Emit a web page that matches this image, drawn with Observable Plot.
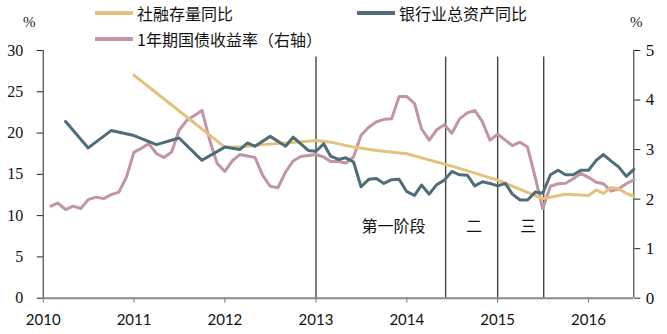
<!DOCTYPE html>
<html><head><meta charset="utf-8">
<script src="https://cdn.jsdelivr.net/npm/d3@7"></script>
<script src="https://cdn.jsdelivr.net/npm/@observablehq/plot@0.6"></script>
<style>
body{margin:0;background:#fff;}
#wrap{position:relative;width:667px;height:334px;font-family:"Noto Sans CJK SC",sans-serif;}
#wrap svg{position:absolute;left:0;top:0;}
.leg{position:absolute;display:flex;align-items:center;font-size:16px;line-height:18px;color:#111;white-space:nowrap;}
.sw{width:38px;height:4px;margin-right:4px;}
.pct{position:absolute;font-family:"Liberation Serif",serif;font-size:15px;color:#222;}
</style></head>
<body><div id="wrap"></div>
<script>
// 银行业总资产同比 (%, left axis)
const bankMonths = ["2010-04","2010-07","2010-10","2011-01","2011-04","2011-07","2011-10",
  "2012-01","2012-03","2012-04","2012-05","2012-07","2012-09","2012-10","2012-12",
  "2013-01","2013-02","2013-03","2013-04","2013-05","2013-06","2013-07","2013-08","2013-09","2013-10","2013-11","2013-12",
  "2014-01","2014-02","2014-03","2014-04","2014-05","2014-06","2014-07","2014-08","2014-09","2014-10","2014-11","2014-12",
  "2015-01","2015-02","2015-03","2015-04","2015-05","2015-06","2015-07","2015-08","2015-09","2015-10","2015-11","2015-12",
  "2016-01","2016-02","2016-03","2016-04","2016-05","2016-06","2016-07"];
const bankValues = [21.4,18.2,20.3,19.7,18.6,19.4,16.7,
  18.3,18.0,18.8,18.4,19.6,18.4,19.5,17.9,
  17.8,18.7,17.2,16.8,17.0,16.5,13.5,14.4,14.5,13.9,14.35,14.4,
  12.9,12.45,13.7,12.6,13.75,14.3,15.35,14.95,14.9,13.6,14.1,13.9,
  13.6,13.9,12.6,11.9,11.9,12.85,12.7,14.95,15.5,14.95,14.95,15.5,
  15.5,16.7,17.4,16.6,15.9,14.75,15.6];

// 社融存量同比 (%, left axis)
const tsfMonths = ["2011-01","2012-01","2012-03","2012-06","2012-09","2012-12","2013-01","2013-03","2013-06","2013-09","2014-01",
  "2014-07","2015-01","2015-07","2015-10","2016-01","2016-02","2016-03","2016-04","2016-05","2016-06","2016-07"];
const tsfValues = [27.0,18.3,18.3,18.6,18.8,19.0,19.1,18.9,18.3,17.9,17.5,
  16.0,14.3,12.05,12.6,12.45,13.1,12.7,13.4,13.25,12.7,12.35];

// 1年期国债收益率 (%, right axis), monthly 2010-02 .. 2016-07
const bondStart = "2010-02";
const bondValues = [1.86,1.92,1.79,1.86,1.81,1.99,2.04,2.01,2.09,2.14,2.44,
  2.95,3.03,3.12,2.92,2.84,2.95,3.39,3.59,3.69,3.79,3.19,2.72,
  2.56,2.78,2.90,2.87,2.84,2.48,2.26,2.23,2.55,2.77,2.86,2.88,
  2.90,2.85,2.76,2.76,2.73,2.85,3.29,3.45,3.56,3.61,3.62,4.07,
  4.07,3.93,3.42,3.19,3.40,3.50,3.33,3.62,3.74,3.79,3.56,3.19,
  3.31,3.19,3.08,3.15,3.05,2.44,1.81,2.26,2.31,2.32,2.41,2.52,
  2.44,2.34,2.31,2.16,2.21,2.31,2.39];

// phase boundaries and labels
const phaseDates = ["2013-01-01","2014-06-06","2015-01-01","2015-07-05"];
const phaseLabels = ["第一阶段","二","三"];
const phaseLabelDates = ["2013-11-08","2014-09-28","2015-05-04"];
const phaseLabelY = 8.6;

const leftTicks = [0,5,10,15,20,25,30];
const rightTicks = [0,1,2,3,4,5];
const yearTicks = ["2010","2011","2012","2013","2014","2015","2016"];

const seriesNames = ["社融存量同比","银行业总资产同比","1年期国债收益率（右轴）"];
const colors = ["#e2c27c","#4f6c79","#c294a7"];

const pm = d3.utcParse("%Y-%m"), pd = d3.utcParse("%Y-%m-%d"), py = d3.utcParse("%Y");
const bank = bankMonths.map((m,i)=>({date:pm(m), v:bankValues[i]}));
const tsf = tsfMonths.map((m,i)=>({date:pm(m), v:tsfValues[i]}));
const bondDates = d3.utcMonth.range(pm(bondStart), d3.utcMonth.offset(pm(bondStart), bondValues.length));
const bond = bondValues.map((v,i)=>({date:bondDates[i], v}));
const phases = phaseDates.map(pd);
const labels = phaseLabels.map((t,i)=>({date:pd(phaseLabelDates[i]), t}));
const ratio = 30/5;
const x0 = py("2010"), x1 = d3.utcParse("%Y-%m-%d")("2016-07-01");

const chart = Plot.plot({
  width: 667, height: 334,
  marginTop: 50, marginBottom: 36.3, marginLeft: 42.7, marginRight: 33.7,
  x: {type:"utc", domain:[x0,x1]},
  y: {domain:[0,30]},
  style: {background:"transparent"},
  marks: [
    Plot.ruleX(phases, {y1:0, y2:29.2, stroke:"#444", strokeWidth:1.4}),
    Plot.ruleX([x0], {y1:0, y2:30, stroke:"#222", strokeWidth:1}),
    Plot.ruleX([x1], {y1:0, y2:30, stroke:"#222", strokeWidth:1}),
    Plot.ruleY([0], {stroke:"#8a8a8a", strokeWidth:2}),
    Plot.axisX({ticks: yearTicks.map(py), tickFormat:"%Y", tickSize:5, tickPadding:11, stroke:"#777",
      fontSize:15, fontFamily:"Lato", fill:"#111", label:null}),
    Plot.axisY({anchor:"left", ticks:leftTicks, tickSize:6, tickPadding:14, stroke:"#222",
      fontSize:16, fontFamily:"Liberation Serif", fill:"#111", label:null}),
    Plot.axisY({anchor:"right", ticks:rightTicks.map(d=>d*ratio), tickFormat:d=>d/ratio, tickSize:6, tickPadding:6, stroke:"#222",
      fontSize:17, fontFamily:"Liberation Serif", fill:"#111", label:null}),
    Plot.line(bond, {x:"date", y:d=>d.v*ratio, stroke:colors[2], strokeWidth:3}),
    Plot.line(tsf, {x:"date", y:"v", stroke:colors[0], strokeWidth:3}),
    Plot.line(bank, {x:"date", y:"v", stroke:colors[1], strokeWidth:3}),
    Plot.text(labels, {x:"date", y:()=>phaseLabelY, text:"t", fontSize:16, fontFamily:"Noto Sans CJK SC", fill:"#111"})
  ]
});
const wrap = document.getElementById("wrap");
wrap.appendChild(chart);
const legPos = [[95,4],[357,4],[95,30]];
seriesNames.forEach((n,i)=>{
  const d = document.createElement("div");
  d.className = "leg";
  d.style.left = legPos[i][0]+"px"; d.style.top = legPos[i][1]+"px";
  d.innerHTML = `<span class="sw" style="background:${colors[i]}"></span><span>${n}</span>`;
  wrap.appendChild(d);
});
[[23,14],[630,14]].forEach(p=>{
  const d = document.createElement("div");
  d.className="pct"; d.textContent="%";
  d.style.left=p[0]+"px"; d.style.top=p[1]+"px";
  wrap.appendChild(d);
});
</script>
</body></html>
